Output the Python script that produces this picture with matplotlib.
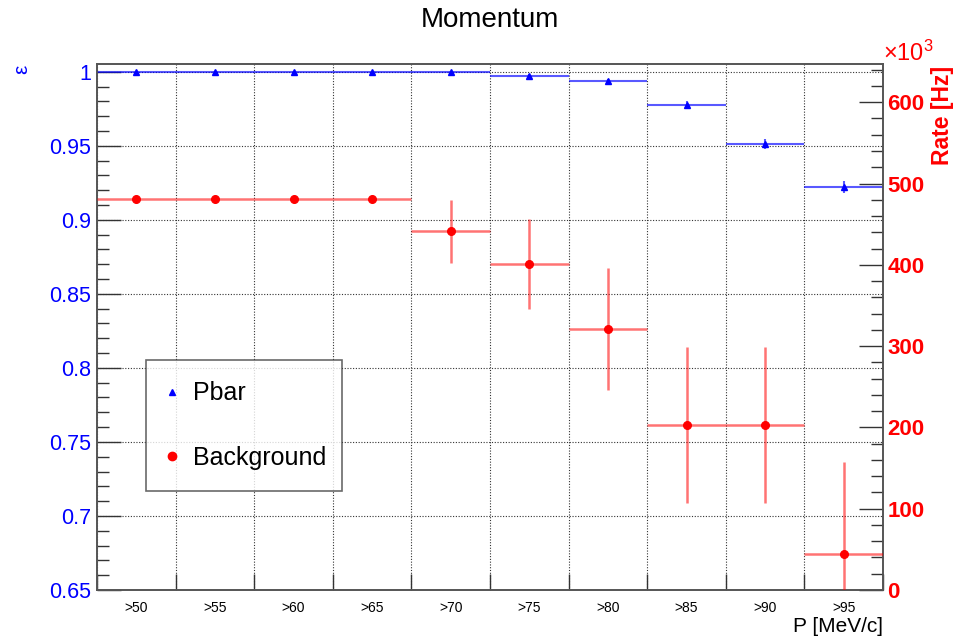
import matplotlib
matplotlib.use("Agg")
import matplotlib.pyplot as plt
import numpy as np
from matplotlib.ticker import MultipleLocator, FixedLocator, FuncFormatter, NullFormatter
from matplotlib.lines import Line2D

plt.rcParams['font.family'] = ['Liberation Sans', 'DejaVu Sans']
plt.rcParams['mathtext.fontset'] = 'custom'
plt.rcParams['mathtext.rm'] = 'Liberation Sans'
plt.rcParams['mathtext.it'] = 'Liberation Sans'

# momentum cut bins
cuts = [">50", ">55", ">60", ">65", ">70", ">75", ">80", ">85", ">90", ">95"]

# pbar efficiency per cut
eff = [1.0, 1.0, 1.0, 1.0, 0.9996, 0.9973, 0.9937, 0.9775, 0.9513, 0.9222]
eff_err = [0, 0, 0, 0, 0.0005, 0.001, 0.0015, 0.0025, 0.0035, 0.004]

# background rate per cut [Hz / 1e3]
rate = [481, 481, 481, 481, 441, 401, 321, 203, 203, 44]
rate_err = [0, 0, 0, 0, 39, 55, 75, 96, 96, 113]

x = np.arange(len(cuts)) + 0.5
xerr = 0.5

W, H = 954, 638
fig = plt.figure(figsize=(W / 100, H / 100), dpi=100)
ax = fig.add_axes([97 / W, 48 / H, 786 / W, 526 / H])
ax2 = ax.twinx()

frame_col = '#555555'
for a in (ax, ax2):
    for s in a.spines.values():
        s.set_color(frame_col)
        s.set_linewidth(1.2)

# efficiency (left axis)
ax.errorbar(x, eff, xerr=xerr, yerr=eff_err, fmt='^', color='blue', ms=5,
            ecolor=(0, 0, 1, 0.65), elinewidth=1.5, capsize=0, zorder=3)
ax.set_xlim(0, len(cuts))
ax.set_ylim(0.65, 1.0052)

# background rate (right axis)
ax2.errorbar(x, rate, xerr=xerr, yerr=rate_err, fmt='o', color='red', ms=5.5,
             ecolor=(1, 0, 0, 0.55), elinewidth=1.8, capsize=0, zorder=3)
ax2.set_ylim(0, 647)

# x axis: ticks on bin edges, labels on bin centres
ax.xaxis.set_major_locator(MultipleLocator(1))
ax.xaxis.set_major_formatter(NullFormatter())
ax.xaxis.set_minor_locator(FixedLocator(x))
ax.xaxis.set_minor_formatter(FuncFormatter(lambda v, p: cuts[int(v)]))
ax.tick_params(axis='x', which='major', direction='in', length=11.5, width=1,
               color='#333333', top=False)
ax.tick_params(axis='x', which='minor', length=0, pad=8, labelsize=10)

# left axis
ax.yaxis.set_major_locator(MultipleLocator(0.05))
ax.yaxis.set_minor_locator(MultipleLocator(0.01))
ax.yaxis.set_major_formatter(FuncFormatter(lambda v, p: f"{v:g}"))
ax.tick_params(axis='y', which='major', direction='in', length=17, width=1,
               color='#333333', labelsize=15.5, labelcolor='blue', pad=4)
ax.tick_params(axis='y', which='minor', direction='in', length=8.5, width=1,
               color='#333333')

# right axis
ax2.yaxis.set_major_locator(MultipleLocator(100))
ax2.yaxis.set_minor_locator(MultipleLocator(20))
ax2.yaxis.set_major_formatter(FuncFormatter(lambda v, p: f"{v:.0f}"))
ax2.tick_params(axis='y', which='major', direction='in', length=17, width=1,
                color='#333333', labelsize=16, labelcolor='red', pad=3)
ax2.tick_params(axis='y', which='minor', direction='in', length=8.5, width=1,
                color='#333333')
for lab in ax2.get_yticklabels():
    lab.set_fontweight('bold')

ax.grid(True, which='major', linestyle=(0, (1, 1.5)), color='#333333',
        linewidth=0.8)
ax.set_axisbelow(True)

# legend
handles = [Line2D([], [], marker='^', color='blue', ls='none', ms=5),
           Line2D([], [], marker='o', color='red', ls='none', ms=6)]
leg = ax2.legend(handles, ["Pbar", "Background"], loc='lower left',
                 bbox_to_anchor=(49 / 786, 99 / 526, 196 / 786, 131 / 526),
                 mode='expand', fontsize=18, frameon=True, fancybox=False,
                 borderpad=0.86, labelspacing=1.6, handlelength=0.4,
                 handletextpad=0.62, borderaxespad=0)
leg.get_frame().set_edgecolor('#444444')
leg.get_frame().set_linewidth(1.2)

# titles and axis labels
fig.text(490 / W, 1 - 20 / H, "Momentum", ha='center', va='center', fontsize=20)
fig.text(883 / W, 1 - 626 / H, "P [MeV/c]", ha='right', va='center', fontsize=15)
fig.text(22 / W, 1 - 69 / H, "ε", ha='center', va='center', rotation=90,
         color='blue', fontsize=15)
fig.text(943 / W, 1 - 115 / H, "Rate [Hz]", ha='center', va='center',
         rotation=90, color='red', fontsize=16.5, fontweight='bold')
fig.text(883 / W, 1 - 53 / H, r"$\times10^{3}$", ha='left', va='center',
         color='red', fontsize=17)

fig.savefig("out.png", dpi=100)
